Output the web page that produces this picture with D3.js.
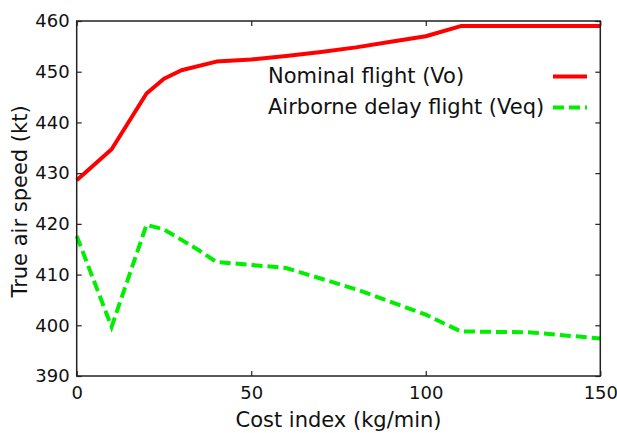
<!DOCTYPE html>
<html><head><meta charset="utf-8">
<script src="https://cdn.jsdelivr.net/npm/d3@7"></script>
<style>body{margin:0;background:#fff}svg{display:block;font-family:"DejaVu Sans",sans-serif}</style>
</head><body><svg id="c" width="617" height="433"></svg>
<script>
const nominalX = [0,10,20,25,30,40,50,60,70,80,90,100,110,150];
const nominalY = [428.6,434.7,445.7,448.6,450.3,452.0,452.4,453.1,453.9,454.8,455.9,457.0,459.0,459.0];
const delayX = [0,10,20,25,35,40,60,80,100,110,130,150];
const delayY = [417.6,399.7,419.8,418.9,414.8,412.5,411.3,407.1,402.1,398.8,398.6,397.4];
const xTicks = [0,50,100,150];
const yTicks = [390,400,410,420,430,440,450,460];
const seriesNames = ["Nominal flight (Vo)","Airborne delay flight (Veq)"];
const xTitle = "Cost index (kg/min)";
const yTitle = "True air speed (kt)";

const svg = d3.select("#c");
const L=76.7,R=600.3,T=21,B=376;
const x = d3.scaleLinear().domain([0,150]).range([L,R]);
const y = d3.scaleLinear().domain([390,460]).range([B,T]);
const axCol="#222";

const g = svg.append("g");
const line = d3.line().x(d=>x(d[0])).y(d=>y(d[1]));
g.append("path").datum(nominalX.map((v,i)=>[v,nominalY[i]])).attr("d",line)
 .attr("fill","none").attr("stroke","#ff0000").attr("stroke-width",4).attr("stroke-linejoin","round");
g.append("path").datum(delayX.map((v,i)=>[v,delayY[i]])).attr("d",line)
 .attr("fill","none").attr("stroke","#00ee00").attr("stroke-width",4).attr("stroke-dasharray","11,5");

// frame
svg.append("rect").attr("x",L).attr("y",T).attr("width",R-L).attr("height",B-T)
 .attr("fill","none").attr("stroke",axCol).attr("stroke-width",1.5);

const fs=18, fs2=21;
const xb = svg.append("g").attr("transform",`translate(0,${B})`).call(d3.axisBottom(x).tickValues(xTicks).tickSizeInner(-5).tickSizeOuter(0).tickPadding(10));
const xt = svg.append("g").attr("transform",`translate(0,${T})`).call(d3.axisTop(x).tickValues(xTicks).tickSizeInner(-5).tickSizeOuter(0).tickFormat(""));
const yl = svg.append("g").attr("transform",`translate(${L},0)`).call(d3.axisLeft(y).tickValues(yTicks).tickSizeInner(-5).tickSizeOuter(0).tickPadding(7));
const yr = svg.append("g").attr("transform",`translate(${R},0)`).call(d3.axisRight(y).tickValues(yTicks).tickSizeInner(-5).tickSizeOuter(0).tickFormat(""));
[xb,xt,yl,yr].forEach(a=>{a.select(".domain").remove();a.selectAll("line").attr("stroke",axCol).attr("stroke-width",1.2);
 a.selectAll("text").attr("font-size",fs).attr("font-family","DejaVu Sans").attr("fill","#111");});

svg.append("text").attr("x",(L+R)/2).attr("y",427).attr("text-anchor","middle").attr("font-size",fs2).attr("fill","#111").text(xTitle);
svg.append("text").attr("transform",`translate(27,${(T+B)/2+3}) rotate(-90)`).attr("text-anchor","middle").attr("font-size",fs2).attr("fill","#111").text(yTitle);

const leg=[{n:seriesNames[0],c:"#ff0000",d:null,y:76.5},{n:seriesNames[1],c:"#00ee00",d:"11,5",y:107.5}];
leg.forEach(l=>{
 svg.append("text").attr("x",268).attr("y",l.y+6.5).attr("font-size",fs2).attr("fill","#111").text(l.n);
 const ln=svg.append("line").attr("x1",553).attr("x2",587).attr("y1",l.y).attr("y2",l.y).attr("stroke",l.c).attr("stroke-width",4);
 if(l.d) ln.attr("stroke-dasharray",l.d);
});
</script></body></html>
